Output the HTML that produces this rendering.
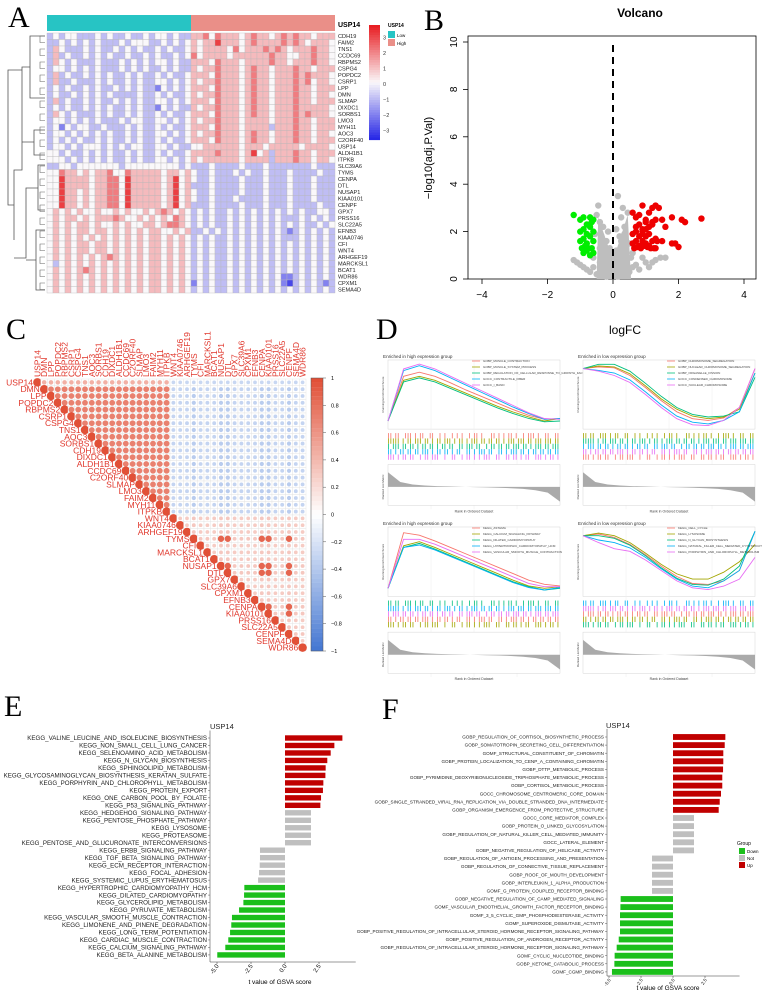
<!DOCTYPE html>
<html><head><meta charset="utf-8"><style>
html,body{margin:0;padding:0;background:#fff;}
svg{display:block;font-family:"Liberation Sans",sans-serif;}
.pl{font-family:"Liberation Serif",serif;font-size:30px;}
</style></head><body>
<svg id="fig" width="762" height="991" viewBox="0 0 762 991" xmlns="http://www.w3.org/2000/svg">
<text class="pl" x="8" y="27">A</text>
<text class="pl" x="424" y="30">B</text>
<text class="pl" x="6" y="339">C</text>
<text class="pl" x="376" y="339">D</text>
<text class="pl" x="4" y="716">E</text>
<text class="pl" x="382" y="719">F</text>
<g id="A"></g>
<g id="B"></g>
<g id="C"></g>
<g id="D"></g>
<g id="E"></g>
<g id="F"></g>
</svg>
<script>
// ---------- DATA ----------
const heatGenes=["CDH19","FAIM2","TNS1","CCDC69","RBPMS2","CSPG4","POPDC2","CSRP1","LPP","DMN","SLMAP","DIXDC1","SORBS1","LMO3","MYH11","AOC3","C2ORF40","USP14","ALDH1B1","ITPKB","SLC39A6","TYMS","CENPA","DTL","NUSAP1","KIAA0101","CENPF","GPX7","PRSS16","SLC22A5","EFNB3","KIAA0746","CFI","WNT4","ARHGEF19","MARCKSL1","BCAT1","WDR86","CPXM1","SEMA4D"];
const heatRows=[
"232332223232232232332322445354443454434545443444",
"223232323222323332232323434464443454444545434443",
"243222323223232322323223434444353444545434445443",
"242322323232232232322323534444344444454433445443",
"243232223222323232332322444354443444454434445443",
"233232323222323232232322434454443454434445443444",
"242322323232232322323223444354443454434445454443",
"242232223232232322332323434454443454434445453443",
"232322323223232322132323444354443454434445443444",
"232232323232222322323223434454443454434445443443",
"242322323223232322332323444354443454434445443444",
"232322323232232322132322434454443454434445444443",
"243232223232232322323223444354443454434445454443",
"233232323222323322332323434454443444434445443444",
"231323322322232322323223444354443444424445443444",
"233232323232232322332323434454443454434445443443",
"232323223232232322323223444354443454434445443444",
"233232333232323322332322334444443444344444344443",
"332322323232232322323223444454443463424445443444",
"333232323232232322332323434444443444424445443443",
"223323333333233333333323222322223222322222223222",
"335443434453354444434434322322232322322232222322",
"336444434455364444434634322322223222322232223222",
"336444434455364444434634222322223222322232223222",
"336443434455364444434634322322223222322232223222",
"336443434455364444434634322322232222322232223222",
"336443434455364444434634222322223222322232222322",
"343434334334343343454343232322323232323232322332",
"343443434445433434343543232322323232323222323232",
"343434434334343344345543232322323232323232322323",
"343434434434343434433434223232323232323212323232",
"343434343434343434434343232322323232323222323232",
"343434434434343434434343232322323232323232323232",
"343434434434343434434343232322323232323232323232",
"343434343454343434434343232322323232323232323232",
"323434343434343434434343232322323232323232323232",
"343434543434343434434343232322323232323232323232",
"343434343434343434434343232322323232323112323232",
"343434343434343434434343132322323232323102323212",
"343434343434343434434343232322323232323232323232"];

const volGrayX=[-1.2,-1.1,-1.0,-0.9,-0.8,-0.6,-0.55,-0.5,-0.45,-0.4,-0.35,-0.3,-0.3,-0.25,-0.2,-0.2,-0.15,-0.1,-0.1,-0.05,0.05,0.1,0.1,0.15,0.2,0.2,0.25,0.3,0.3,0.35,0.4,0.45,0.5,0.55,0.6,0.7,0.8,0.9,1.0,1.1,1.2,1.3,1.45,1.6,-0.7,-0.6,-0.5,-0.4,-0.3,-0.2,0.2,0.3,0.4,0.5,0.6,0.15,-0.4,0.45,-0.25,0.25,-0.1,0.1,0.0,0.35];
const volGrayY=[0.8,0.7,0.6,0.5,0.4,0.5,1.9,2.7,3.1,2.4,1.8,2.2,1.2,1.0,1.6,0.6,2.0,1.3,0.3,0.8,0.5,1.2,2.1,3.5,1.8,0.7,2.6,3.0,1.3,2.2,1.0,2.8,1.5,0.9,0.5,0.6,0.4,0.9,0.7,0.5,0.7,0.8,0.9,0.9,0.3,0.9,0.2,1.3,0.4,0.1,0.2,0.3,0.6,0.3,1.1,0.1,0.7,0.2,0.3,1.6,0.9,0.4,0.2,1.9];
const volDownX=[-1.2,-1.0,-0.9,-0.8,-0.7,-0.65,-0.6,-1.0,-0.9,-0.8,-0.7,-0.6,-1.0,-0.9,-0.8,-0.7,-0.6,-0.95,-0.85,-0.75,-0.65,-0.9,-0.8,-0.7,-0.6];
const volDownY=[2.7,2.5,2.6,2.3,2.6,2.4,2.5,2.0,2.1,1.9,2.2,2.0,1.6,1.7,1.5,1.8,1.6,1.3,1.4,1.3,1.3,1.1,1.2,1.0,1.1];
const volUpX=[0.6,0.7,0.8,0.9,1.0,1.1,1.2,1.3,1.4,1.2,1.3,0.7,0.8,0.9,1.0,1.1,1.2,1.5,1.6,1.8,2.1,2.2,2.7,0.6,0.7,0.8,0.9,1.0,1.1,1.3,1.5,1.8,1.9,2.0,0.6,0.7,0.8,0.9,1.0,1.1,1.2,1.3,0.65,0.75,0.85,0.95,1.05,1.15,1.25,1.35,1.0,0.9];
const volUpY=[2.8,2.6,2.7,3.1,2.5,2.8,3.0,3.1,3.0,2.4,2.5,2.2,2.3,2.1,2.4,2.2,2.3,2.5,2.2,2.6,2.5,2.4,2.55,1.9,2.0,1.8,1.9,2.1,1.9,1.7,1.6,1.5,1.5,1.35,1.5,1.6,1.4,1.6,1.5,1.4,1.6,1.3,1.3,1.35,1.3,1.4,1.35,1.3,1.3,1.6,1.8,2.0];

const corrGenes=["USP14","DMN","LPP","POPDC2","RBPMS2","CSRP1","CSPG4","TNS1","AOC3","SORBS1","CDH19","DIXDC1","ALDH1B1","CCDC69","C2ORF40","SLMAP","LMO3","FAIM2","MYH11","ITPKB","WNT4","KIAA0746","ARHGEF19","TYMS","CFI","MARCKSL1","BCAT1","NUSAP1","DTL","GPX7","SLC39A6","CPXM1","EFNB3","CENPA","KIAA0101","PRSS16","SLC22A5","CENPF","SEMA4D","WDR86"];
const corrGroup=["U","A","A","A","A","A","A","A","A","A","A","A","A","A","A","A","A","A","A","A","B","B","B","P","B","B","B","P","P","B","B","B","B","P","P","B","B","P","B","B"];
const corrBlockKeys=["UA","UB","UP","AA","AB","AP","BB","BP","PP"];
const corrBlockVals=[0.45,-0.3,-0.3,0.72,-0.32,-0.38,0.3,0.32,0.88];

const keggTerms=["KEGG_VALINE_LEUCINE_AND_ISOLEUCINE_BIOSYNTHESIS","KEGG_NON_SMALL_CELL_LUNG_CANCER","KEGG_SELENOAMINO_ACID_METABOLISM","KEGG_N_GLYCAN_BIOSYNTHESIS","KEGG_SPHINGOLIPID_METABOLISM","KEGG_GLYCOSAMINOGLYCAN_BIOSYNTHESIS_KERATAN_SULFATE","KEGG_PORPHYRIN_AND_CHLOROPHYLL_METABOLISM","KEGG_PROTEIN_EXPORT","KEGG_ONE_CARBON_POOL_BY_FOLATE","KEGG_P53_SIGNALING_PATHWAY","KEGG_HEDGEHOG_SIGNALING_PATHWAY","KEGG_PENTOSE_PHOSPHATE_PATHWAY","KEGG_LYSOSOME","KEGG_PROTEASOME","KEGG_PENTOSE_AND_GLUCURONATE_INTERCONVERSIONS","KEGG_ERBB_SIGNALING_PATHWAY","KEGG_TGF_BETA_SIGNALING_PATHWAY","KEGG_ECM_RECEPTOR_INTERACTION","KEGG_FOCAL_ADHESION","KEGG_SYSTEMIC_LUPUS_ERYTHEMATOSUS","KEGG_HYPERTROPHIC_CARDIOMYOPATHY_HCM","KEGG_DILATED_CARDIOMYOPATHY","KEGG_GLYCEROLIPID_METABOLISM","KEGG_PYRUVATE_METABOLISM","KEGG_VASCULAR_SMOOTH_MUSCLE_CONTRACTION","KEGG_LIMONENE_AND_PINENE_DEGRADATION","KEGG_LONG_TERM_POTENTIATION","KEGG_CARDIAC_MUSCLE_CONTRACTION","KEGG_CALCIUM_SIGNALING_PATHWAY","KEGG_BETA_ALANINE_METABOLISM"];
const keggT=[4.22,3.63,3.36,3.11,2.99,2.97,2.82,2.79,2.65,2.60,1.91,1.91,1.91,1.91,1.91,-1.84,-1.84,-1.86,-1.91,-1.98,-2.99,-3.01,-3.06,-3.38,-3.90,-3.95,-4.04,-4.17,-4.39,-4.98];
const goTerms=["GOBP_REGULATION_OF_CORTISOL_BIOSYNTHETIC_PROCESS","GOBP_SOMATOTROPIN_SECRETING_CELL_DIFFERENTIATION","GOMF_STRUCTURAL_CONSTITUENT_OF_CHROMATIN","GOBP_PROTEIN_LOCALIZATION_TO_CENP_A_CONTAINING_CHROMATIN","GOBP_DTTP_METABOLIC_PROCESS","GOBP_PYRIMIDINE_DEOXYRIBONUCLEOSIDE_TRIPHOSPHATE_METABOLIC_PROCESS","GOBP_CORTISOL_METABOLIC_PROCESS","GOCC_CHROMOSOME_CENTROMERIC_CORE_DOMAIN","GOBP_SINGLE_STRANDED_VIRAL_RNA_REPLICATION_VIA_DOUBLE_STRANDED_DNA_INTERMEDIATE","GOBP_ORGANISM_EMERGENCE_FROM_PROTECTIVE_STRUCTURE","GOCC_CORE_MEDIATOR_COMPLEX","GOBP_PROTEIN_O_LINKED_GLYCOSYLATION","GOBP_REGULATION_OF_NATURAL_KILLER_CELL_MEDIATED_IMMUNITY","GOCC_LATERAL_ELEMENT","GOBP_NEGATIVE_REGULATION_OF_HELICASE_ACTIVITY","GOBP_REGULATION_OF_ANTIGEN_PROCESSING_AND_PRESENTATION","GOBP_REGULATION_OF_CONNECTIVE_TISSUE_REPLACEMENT","GOBP_ROOF_OF_MOUTH_DEVELOPMENT","GOBP_INTERLEUKIN_1_ALPHA_PRODUCTION","GOMF_G_PROTEIN_COUPLED_RECEPTOR_BINDING","GOBP_NEGATIVE_REGULATION_OF_CAMP_MEDIATED_SIGNALING","GOMF_VASCULAR_ENDOTHELIAL_GROWTH_FACTOR_RECEPTOR_BINDING","GOMF_3_5_CYCLIC_GMP_PHOSPHODIESTERASE_ACTIVITY","GOMF_SUPEROXIDE_DISMUTASE_ACTIVITY","GOBP_POSITIVE_REGULATION_OF_INTRACELLULAR_STEROID_HORMONE_RECEPTOR_SIGNALING_PATHWAY","GOBP_POSITIVE_REGULATION_OF_ANDROGEN_RECEPTOR_ACTIVITY","GOBP_REGULATION_OF_INTRACELLULAR_STEROID_HORMONE_RECEPTOR_SIGNALING_PATHWAY","GOMF_CYCLIC_NUCLEOTIDE_BINDING","GOBP_KETONE_CATABOLIC_PROCESS","GOMF_CGMP_BINDING"];
const goT=[4.09,4.04,3.93,3.93,3.91,3.85,3.85,3.75,3.65,3.57,1.64,1.64,1.64,1.64,1.64,-1.64,-1.64,-1.64,-1.64,-1.64,-4.09,-4.11,-4.14,-4.14,-4.14,-4.24,-4.40,-4.56,-4.58,-4.77];
const gsvaTicks=[-5,-2.5,0,2.5];

const esTL=[[0,0.55,0.6,0.55,0.47,0.38,0.3,0.22,0.14,0.07,0.02,0.03],[0,0.5,0.55,0.5,0.42,0.34,0.26,0.18,0.11,0.05,0.0,0.03],[0,0.48,0.53,0.48,0.4,0.32,0.24,0.16,0.09,0.03,-0.01,0.0],[0,0.62,0.68,0.62,0.53,0.44,0.35,0.26,0.17,0.09,0.02,0.03],[0,0.64,0.7,0.64,0.55,0.46,0.37,0.28,0.19,0.1,0.03,0.02]];
const esTR=[[0,0.02,0.01,-0.08,-0.22,-0.37,-0.5,-0.58,-0.6,-0.57,-0.45,0],[0,0.03,0.02,-0.06,-0.2,-0.35,-0.47,-0.55,-0.58,-0.56,-0.47,-0.05],[0,0.05,0.05,-0.03,-0.17,-0.32,-0.45,-0.53,-0.56,-0.55,-0.5,-0.1],[0,-0.02,-0.05,-0.13,-0.27,-0.42,-0.55,-0.62,-0.64,-0.6,-0.5,-0.05],[0,-0.03,-0.08,-0.16,-0.3,-0.45,-0.58,-0.65,-0.66,-0.6,-0.45,0]];
const esBL=[[0,0.68,0.65,0.58,0.5,0.42,0.34,0.26,0.18,0.1,0.05,0.03],[0,0.52,0.57,0.5,0.42,0.34,0.26,0.18,0.1,0.03,0.0,0.02],[0,0.5,0.55,0.48,0.4,0.32,0.24,0.16,0.08,0.02,-0.02,0.0],[0,0.5,0.53,0.47,0.39,0.31,0.23,0.15,0.07,0.01,-0.02,0.01],[0,0.6,0.6,0.54,0.46,0.38,0.3,0.22,0.14,0.06,0.02,0.02]];
const esBR=[[0,0.02,-0.02,-0.1,-0.22,-0.35,-0.47,-0.55,-0.56,-0.52,-0.4,0.05],[0,0.03,0.0,-0.08,-0.2,-0.33,-0.44,-0.5,-0.5,-0.42,-0.3,-0.1],[0,0.0,-0.03,-0.11,-0.23,-0.37,-0.49,-0.56,-0.57,-0.5,-0.35,0.05],[0,-0.05,-0.08,-0.14,-0.25,-0.38,-0.5,-0.58,-0.6,-0.52,-0.4,0.05],[0,-0.08,-0.15,-0.18,-0.28,-0.4,-0.52,-0.6,-0.62,-0.58,-0.5,-0.25]];
const legTL=["GOBP_MUSCLE_CONTRACTION","GOBP_MUSCLE_SYSTEM_PROCESS","GOBP_REGULATION_OF_CELLULAR_RESPONSE_TO_GROWTH_FACTOR","GOCC_CONTRACTILE_FIBER","GOCC_I_BAND"];
const legTR=["GOBP_CHROMOSOME_SEGREGATION","GOBP_NUCLEAR_CHROMOSOME_SEGREGATION","GOBP_ORGANELLE_FISSION","GOCC_CONDENSED_CHROMOSOME","GOCC_NUCLEAR_CHROMOSOME"];
const legBL=["KEGG_ASTHMA","KEGG_CALCIUM_SIGNALING_PATHWAY","KEGG_DILATED_CARDIOMYOPATHY","KEGG_HYPERTROPHIC_CARDIOMYOPATHY_HCM","KEGG_VASCULAR_SMOOTH_MUSCLE_CONTRACTION"];
const legBR=["KEGG_CELL_CYCLE","KEGG_LYSOSOME","KEGG_N_GLYCAN_BIOSYNTHESIS","KEGG_NATURAL_KILLER_CELL_MEDIATED_CYTOTOXICITY","KEGG_PORPHYRIN_AND_CHLOROPHYLL_METABOLISM"];
const rugHits=["1101100111010110011001010010101001011010001101010110100101110100110011","1111101011011101101011011101011010111011011011010111011101101110111011","1011101101101011011010110110011011101100101101101101110110101110110111","1101011011011011101011011010110011010111011001101011101101011011011011","1110101101100101101110010011001011010101110011001101101011001110101101"];
const metricShape=[0.9,0.3,0.15,0.09,0.05,0.03,0.01,-0.01,-0.03,-0.05,-0.08,-0.12,-0.2,-0.35,-0.9];

// ---------- HELPERS ----------
const NS="http://www.w3.org/2000/svg";
function mk(parent,tag,attrs,txt){const e=document.createElementNS(NS,tag);for(const k in attrs)e.setAttribute(k,attrs[k]);if(txt!==undefined)e.textContent=txt;parent.appendChild(e);return e;}
function lerp(a,b,t){return a.map((v,i)=>Math.round(v+(b[i]-v)*t));}
function rgb(c){return "rgb("+c.join(",")+")";}
const SER=["#f8766d","#a3a500","#00bf7d","#00b0f6","#e76bf3"];

// ---------- A: heatmap ----------
(function(){
const g=document.getElementById("A");
const x0=47,y0=33,cw=288/48,ch=260/40;
mk(g,"rect",{x:x0,y:15,width:cw*24,height:16,fill:"#27c4c4"});
mk(g,"rect",{x:x0+cw*24,y:15,width:cw*24,height:16,fill:"#ea8f88"});
let t=mk(g,"text",{x:338,y:27,"font-size":"7","font-weight":"bold"},"USP14");

const blue=[40,40,230],white=[250,248,250],red=[232,30,35];
function col(l){const v=(l-3)/3*0.85;return v<0?rgb(lerp(white,blue,-v)):rgb(lerp(white,red,v));}
heatRows.forEach((row,r)=>{
 for(let c=0;c<48;c++){
  const cell=mk(g,"rect",{x:x0+c*cw,y:y0+r*ch,width:cw,height:ch,fill:col(+row[c]),stroke:"#b8b8b8","stroke-width":"0.35"});
  
  
 }
 const lb=mk(g,"text",{x:338,y:y0+r*ch+ch*0.8,"font-size":"5.6",fill:"#222"},heatGenes[r]);
 
});
const d="M45 36 H30 V98 H45 M30 67 H22 V170 H14 V240 M45 130 H34 V155 H45 M34 142 H22 M45 165 H38 V210 H45 M38 188 H26 V258 H14 M45 230 H36 V290 H45 M36 260 H26 M14 205 H8 V70 H22";
mk(g,"path",{d:d,fill:"none",stroke:"#555","stroke-width":"0.8"});
for(let r=0;r<40;r+=2){mk(g,"path",{d:`M45 ${y0+r*ch+3} H40 V${y0+r*ch+ch+3} H45`,fill:"none",stroke:"#666","stroke-width":"0.6"});}
const lg=mk(g,"g",{});
const fullCol=l=>{const v=(l-3)/3;return v<0?rgb(lerp(white,blue,-v)):rgb(lerp(white,red,v));};
for(let i=0;i<46;i++){const l=6-i*6/45;mk(lg,"rect",{x:369,y:25+i*2.5,width:11,height:2.6,fill:fullCol(l)});}
[3,2,1,0,-1,-2,-3].forEach(v=>{mk(lg,"text",{x:383,y:84-v*15.5+2,"font-size":"5.5",fill:"#333"},v<0?"\u2212"+(-v):String(v));});
mk(lg,"text",{x:388,y:27,"font-size":"5","font-weight":"bold"},"USP14");
mk(lg,"rect",{x:388,y:31,width:7,height:7,fill:"#27c4c4"});mk(lg,"text",{x:397,y:37,"font-size":"4.5"},"Low");
mk(lg,"rect",{x:388,y:39,width:7,height:7,fill:"#ea8f88"});mk(lg,"text",{x:397,y:45,"font-size":"4.5"},"High");
})();

// ---------- B: volcano ----------
(function(){
const g=document.getElementById("B");
const X=v=>613+v*32.75, Y=v=>279-v*23.7;
mk(g,"text",{x:640,y:17,"font-size":"12","font-weight":"bold","text-anchor":"middle"},"Volcano");
mk(g,"rect",{x:468,y:36,width:288,height:243,fill:"none",stroke:"#000","stroke-width":"0.8"});
[-4,-2,0,2,4].forEach(v=>{mk(g,"line",{x1:X(v),x2:X(v),y1:279,y2:284,stroke:"#000","stroke-width":"0.8"});mk(g,"text",{x:X(v),y:298,"font-size":"10","text-anchor":"middle"},v<0?"\u2212"+(-v):String(v));});
[0,2,4,6,8,10].forEach(v=>{mk(g,"line",{x1:463,x2:468,y1:Y(v),y2:Y(v),stroke:"#000","stroke-width":"0.8"});mk(g,"text",{x:457,y:Y(v),"font-size":"10","text-anchor":"middle",transform:`rotate(-90 457 ${Y(v)})`},String(v));});
mk(g,"text",{x:432,y:158,"font-size":"11","text-anchor":"middle",transform:"rotate(-90 432 158)"},"\u2212log10(adj.P.Val)");
mk(g,"text",{x:625,y:334,"font-size":"12","text-anchor":"middle"},"logFC");
volGrayX.forEach((x,i)=>{const p=mk(g,"circle",{cx:X(x),cy:Y(volGrayY[i]),r:3.2,fill:"#bebebe"});});
mk(g,"path",{d:`M${X(-0.5)} ${Y(0)} L${X(-0.45)} ${Y(2.6)} L${X(-0.1)} ${Y(1.2)} L${X(0.1)} ${Y(1.2)} L${X(0.45)} ${Y(2.7)} L${X(0.55)} ${Y(0)} Z`,fill:"#bebebe"});
volDownX.forEach((x,i)=>{const p=mk(g,"circle",{cx:X(x),cy:Y(volDownY[i]),r:3.2,fill:"#00ee00"});});
volUpX.forEach((x,i)=>{const p=mk(g,"circle",{cx:X(x),cy:Y(volUpY[i]),r:3.2,fill:"#ee0000"});});
mk(g,"line",{x1:X(0),x2:X(0),y1:45,y2:279,stroke:"#000","stroke-width":"2","stroke-dasharray":"7,5"});
})();

// ---------- C: corrplot ----------
(function(){
const g=document.getElementById("C");
const n=corrGenes.length,s=6.8,x0=34,y0=379;
const blue=[70,120,210],white=[255,255,255],red=[225,80,55];
function col(v){return v<0?rgb(lerp(white,blue,-v)):rgb(lerp(white,red,v));}
function corr(i,j){if(i===j)return 1;let a=corrGroup[i],b=corrGroup[j];if(a==="U"&&b==="U")return 1;let idx=corrBlockKeys.indexOf(a+b);if(idx<0)idx=corrBlockKeys.indexOf(b+a);return corrBlockVals[idx];}
for(let i=0;i<n;i++){
 for(let j=i;j<n;j++){
  const cx=x0+j*s+s/2,cy=y0+i*s+s/2;
  mk(g,"rect",{x:x0+j*s,y:y0+i*s,width:s,height:s,fill:"#fff",stroke:"#e2e2e2","stroke-width":"0.4"});
  const v=corr(i,j);
  const c=mk(g,"circle",{cx:cx,cy:cy,r:(s/2)*Math.sqrt(Math.abs(v))*(i===j?1.25:1),fill:col(v)});
  
  
 }
 const rl=mk(g,"text",{x:x0+i*s-1,y:y0+i*s+s/2+3,"font-size":"8.5","text-anchor":"end",fill:"#e0372c"},corrGenes[i]);
 
 const cx=x0+i*s+s/2+3;
 const cl=mk(g,"text",{x:cx,y:y0-2,"font-size":"8.5",fill:"#e0372c",transform:`rotate(-90 ${cx} ${y0-2})`},corrGenes[i]);
 
}
const cb=mk(g,"g",{});
for(let i=0;i<60;i++){const v=1-i*2/59;mk(cb,"rect",{x:311,y:378+i*4.55,width:12,height:4.7,fill:col(v)});}
mk(cb,"rect",{x:311,y:378,width:12,height:273,fill:"none",stroke:"#555","stroke-width":"0.5"});
[1,0.8,0.6,0.4,0.2,0,-0.2,-0.4,-0.6,-0.8,-1].forEach(v=>{const y=378+(1-v)/2*273;mk(cb,"line",{x1:323,x2:326,y1:y,y2:y,stroke:"#555","stroke-width":"0.5"});mk(cb,"text",{x:331,y:y+2,"font-size":"5.5"},v<0?"\u2212"+(-v):String(v));});
})();

// ---------- D: GSEA ----------
(function(){
const g=document.getElementById("D");
function panel(x0,y0,w,h,title,legs,es,lo,hi,pos){
 const p=mk(g,"g",{});
 const px=x0+6,pw=w-8;
 const top=y0+5,esH=h*0.44;
 mk(p,"text",{x:x0+1,y:y0+3,"font-size":"4.6",fill:"#333"},title);
 mk(p,"rect",{x:px,y:top,width:pw,height:esH,fill:"#fff",stroke:"#ccc","stroke-width":"0.4"});
 for(let k=1;k<4;k++)mk(p,"line",{x1:px+pw*k/4,x2:px+pw*k/4,y1:top,y2:top+h*0.95,stroke:"#eee","stroke-width":"0.5"});
 const Y=v=>top+esH-(v-lo)/(hi-lo)*esH;
 es.forEach((ser,si)=>{let d="";ser.forEach((v,k)=>{d+=(k?"L":"M")+(px+pw*k/(ser.length-1)).toFixed(1)+" "+Y(v).toFixed(1);});
  const l=mk(p,"path",{d:d,fill:"none",stroke:SER[si],"stroke-width":"0.9"});});
 legs.forEach((t,i)=>{const ly=y0+6+i*6;mk(p,"line",{x1:x0+w*0.5,x2:x0+w*0.5+8,y1:ly,y2:ly,stroke:SER[i],"stroke-width":"0.8"});mk(p,"text",{x:x0+w*0.5+11,y:ly+1.2,"font-size":"3",fill:"#444"},t);});
 const rt=top+esH+4,rh=(h*0.17)/5;
 rugHits.forEach((s,si)=>{for(let k=0;k<s.length;k++){if(s[k]==="1"){const xx=px+pw*k/s.length;mk(p,"rect",{x:xx,y:rt+si*rh,width:0.8,height:rh,fill:SER[(si+pos)%5]});}}});
 const mt=rt+h*0.2,mh=h*0.26,mid=mt+mh*0.55;
 let d=`M${px} ${mid}`;metricShape.forEach((v,k)=>{d+=`L${(px+pw*k/(metricShape.length-1)).toFixed(1)} ${(mid-v*mh*0.4).toFixed(1)}`;});d+=`L${px+pw} ${mid}Z`;
 mk(p,"rect",{x:px,y:mt,width:pw,height:mh,fill:"#fff",stroke:"#ccc","stroke-width":"0.4"});
 mk(p,"path",{d:d,fill:"#aaa"});
 mk(p,"text",{x:px+pw/2,y:mt+mh+7,"font-size":"3.5","text-anchor":"middle",fill:"#444"},"Rank in Ordered Dataset");
 mk(p,"text",{x:x0+2,y:top+esH/2,"font-size":"3","text-anchor":"middle",transform:`rotate(-90 ${x0+2} ${top+esH/2})`,fill:"#444"},"Running Enrichment Score");
 mk(p,"text",{x:x0+2,y:mid,"font-size":"3","text-anchor":"middle",transform:`rotate(-90 ${x0+2} ${mid})`,fill:"#444"},"Ranked List Metric");
}
panel(382,355,180,157,"Enriched in high expression group",legTL,esTL,-0.1,0.75,0);
panel(577,355,180,157,"Enriched in low expression group",legTR,esTR,-0.7,0.1,1);
panel(382,522,180,158,"Enriched in high expression group",legBL,esBL,-0.1,0.75,2);
panel(577,522,180,158,"Enriched in low expression group",legBR,esBR,-0.7,0.1,3);
})();

// ---------- E & F: GSVA bars ----------
function gsva(gid,terms,vals,zero,unit,yTop,pitch,labelX,fs,titleX,axisY,axisTitleX,axisTitleY,tfs){
 const g=document.getElementById(gid);
 const X=v=>zero+v*unit;
 mk(g,"text",{x:titleX,y:yTop-9,"font-size":"7.5",fill:"#222"},"USP14");
 terms.forEach((t,i)=>{const v=vals[i];const y=yTop+i*pitch;
  const c=i<10?"#c00000":(i<20?"#bfbfbf":"#1bbf1b");
  const b=mk(g,"rect",{x:Math.min(X(0),X(v)),y:y-pitch*0.36,width:Math.abs(X(v)-X(0)),height:pitch*0.72,fill:c});
  
  const lb=mk(g,"text",{x:labelX,y:y+fs*0.35,"font-size":fs,"text-anchor":"end",fill:"#222"},t);
  
  mk(g,"line",{x1:labelX+1,x2:labelX+3,y1:y,y2:y,stroke:"#333","stroke-width":"0.4"});
 });
 mk(g,"line",{x1:labelX+3,x2:labelX+3,y1:yTop-pitch,y2:axisY,stroke:"#333","stroke-width":"0.5"});
 mk(g,"line",{x1:labelX+3,x2:X(5.2),y1:axisY,y2:axisY,stroke:"#333","stroke-width":"0.5"});
 gsvaTicks.forEach(v=>{mk(g,"line",{x1:X(v),x2:X(v),y1:axisY,y2:axisY+2,stroke:"#333","stroke-width":"0.5"});
  mk(g,"text",{x:X(v)+2,y:axisY+4,"font-size":tfs,"text-anchor":"end",transform:`rotate(-55 ${X(v)+2} ${axisY+4})`},v.toFixed(1));});
 mk(g,"text",{x:axisTitleX,y:axisTitleY,"font-size":"6.5","text-anchor":"middle"},"t value of GSVA score");
}
gsva("E",keggTerms,keggT,285,13.6,738,7.48,207,6.2,210,962,280,984,6);
gsva("F",goTerms,goT,673,12.8,737,8.1,604,4.6,606,976,668,990,4.5);
(function(){const g=document.getElementById("F");
 const lg=mk(g,"g",{});
 mk(lg,"text",{x:737,y:845,"font-size":"5"},"Group");
 [["Down","#1bbf1b"],["Not","#bfbfbf"],["Up","#c00000"]].forEach((e,i)=>{mk(lg,"rect",{x:739,y:848+i*7,width:6,height:6,fill:e[1]});mk(lg,"text",{x:747,y:853+i*7,"font-size":"4.5"},e[0]);});
})();
</script>
</body></html>
